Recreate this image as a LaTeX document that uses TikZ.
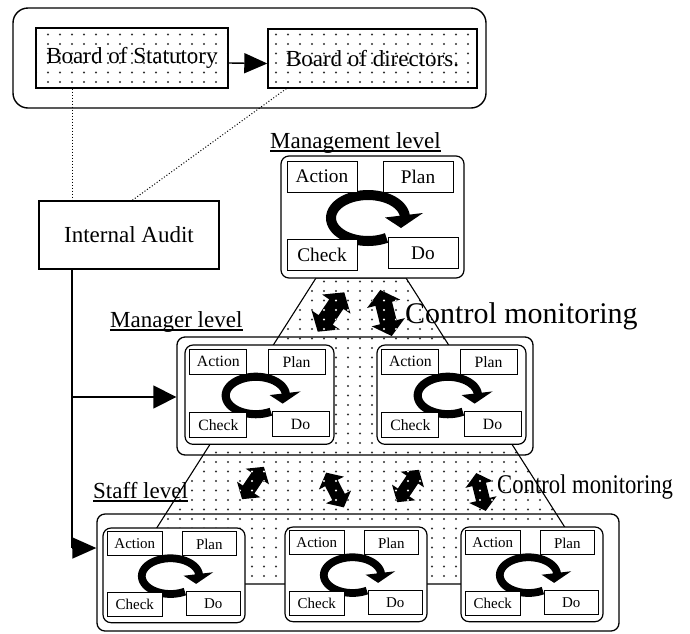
\documentclass[tikz,border=0pt]{standalone}
\usepackage{fontspec}
\setmainfont{Liberation Serif}
\usepackage{graphicx}
\usetikzlibrary{arrows.meta,patterns}

\pgfdeclarepatternformonly{sparsedots}{\pgfqpoint{-1.5pt}{-1.5pt}}{\pgfqpoint{1.5pt}{1.5pt}}{\pgfqpoint{12pt}{9.5pt}}{\pgfpathcircle{\pgfqpoint{0pt}{0pt}}{1.05pt}\pgfusepath{fill}}

\newcommand\myfs[1]{\fontsize{#1}{#1}\selectfont}

% PDCA unit: prefix, x, y (top-left), scale
\newcommand\pdcaunit[4]{%
  \pgfmathsetmacro\ringw{10*#4}%
  \begin{scope}[shift={(#2,#3)}, scale=#4, transform shape]
    \node[unitbox] (#1box) at (91.5,61) {};
    \draw[line width=\ringw pt] plot[domain=60:355, samples=50, smooth] ({87+37*cos(\x)},{62+23*sin(\x)});
    \fill (104,61.5) -- (142,57) -- (120,72) -- cycle;
    \node[subbox] (#1act) at (41,20.5) {Action};
    \node[subbox] (#1plan) at (137,20.5) {Plan};
    \node[subbox] (#1chk) at (41,98.5) {Check};
    \node[subbox] (#1do) at (142,97) {Do};
  \end{scope}}

% dark double arrow: x, y, angle, scale
\newcommand\dblarrow[4]{%
  \begin{scope}[shift={(#1,#2)}, rotate=#3, scale=#4]
    \path[darkarrow] (-25,0) -- (-10,18) -- (-10,9) -- (10,9) -- (10,18) -- (25,0)
      -- (10,-18) -- (10,-9) -- (-10,-9) -- (-10,-18) -- cycle;
  \end{scope}}

\begin{document}
\begin{tikzpicture}[x=1pt,y=-1pt,
  boardbox/.style={draw, line width=1.4pt, pattern=sparsedots, pattern color=black!80, inner sep=0pt, font=\myfs{23}},
  plainbox/.style={draw, line width=1.4pt, fill=white, inner sep=0pt, font=\myfs{23}},
  groupbox/.style={draw, line width=1.4pt, rounded corners=15pt, inner sep=0pt},
  levelbox/.style={draw, line width=1.3pt, rounded corners=8pt, inner sep=0pt},
  unitbox/.style={draw, fill=white, line width=1.2pt, rounded corners=8pt, minimum width=183pt, minimum height=122pt, inner sep=0pt},
  subbox/.style={draw, fill=white, line width=0.9pt, minimum width=70pt, minimum height=31pt, inner sep=0pt, font=\myfs{19.3}},
  lbl/.style={anchor=base west, inner sep=0pt, font=\myfs{23}},
  uline/.style={line width=1.2pt},
  dotline/.style={line width=1pt, dash pattern=on 1pt off 2pt},
  flow/.style={line width=1.4pt},
  darkarrow/.style={fill=black, postaction={pattern=sparsedots, pattern color=white}},
  trap/.style={draw, line width=1.1pt, pattern=sparsedots, pattern color=black!80}
]
\useasboundingbox (0,0) rectangle (690,633);

% background pyramid
\path[trap] (316,278) -- (406,278) -- (601,584) -- (121,584) -- cycle;

% top group
\node[groupbox, minimum width=473pt, minimum height=100pt] (topgrp) at (249.5,58) {};
\node[boardbox, minimum width=192pt, minimum height=60pt] (stat) at (132,58) {Board of Statutory};
\node[boardbox, minimum width=209pt, minimum height=59pt] (dir) at (372.5,58.5) {Board of directors.};
\draw[flow, -{Triangle[length=23pt,width=20pt]}] ([yshift=-5pt]stat.east) -- ([yshift=-5pt]dir.west);

% internal audit
\node[plainbox, minimum width=180pt, minimum height=68pt] (audit) at (129,235) {Internal Audit};
\draw[dotline] ([xshift=37pt]stat.south west) -- ([xshift=34pt]audit.north west);
\draw[dotline] ([xshift=19pt]dir.south west) -- ([xshift=94pt]audit.north west);

% management level
\node[lbl] (lblmgmt) at (270,148) {Management level};
\draw[uline] ([yshift=-3pt]lblmgmt.base west) -- ([yshift=-3pt]lblmgmt.base east);
\pdcaunit{m}{281}{156}{1}

% manager level
\node[lbl] (lblmgr) at (110,327) {Manager level};
\draw[uline] ([yshift=-3pt]lblmgr.base west) -- ([yshift=-3pt]lblmgr.base east);
\node[levelbox, minimum width=356pt, minimum height=118pt] (mgrbox) at (355,396) {};
\pdcaunit{ga}{185}{345}{0.814}
\pdcaunit{gb}{377}{345}{0.814}

% staff level
\node[lbl] (lblstaff) at (93,498) {Staff level};
\draw[uline] ([yshift=-3pt]lblstaff.base west) -- ([yshift=-3pt]lblstaff.base east);
\node[levelbox, minimum width=522pt, minimum height=117pt] (staffbox) at (358,572.5) {};
\pdcaunit{sa}{103}{528}{0.776}
\pdcaunit{sb}{285}{527}{0.776}
\pdcaunit{sc}{461}{527}{0.776}

% control monitoring arrows
\dblarrow{331}{312}{56}{0.95}
\dblarrow{386}{313}{104}{0.95}
\dblarrow{253}{483}{56}{0.78}
\dblarrow{335}{490}{117}{0.78}
\dblarrow{408}{486}{56}{0.78}
\dblarrow{481}{492}{104}{0.78}
\node[anchor=base west, inner sep=0pt, font=\myfs{30}] (cm1) at (405,323) {Control monitoring};
\node[anchor=base west, inner sep=0pt, font=\myfs{27}] (cm2) at (497,493) {\scalebox{0.84}[1]{Control monitoring}};

% audit flow
\coordinate (j1) at (72,397);
\coordinate (j2) at (72,548);
\draw[flow] (j1 |- audit.south) -- (j2);
\draw[flow, -{Triangle[length=23pt,width=23pt]}] (j1) -- (mgrbox.west |- j1);
\draw[flow, -{Triangle[length=24pt,width=21pt]}] (j2) -- (staffbox.west |- j2);
\end{tikzpicture}
\end{document}
